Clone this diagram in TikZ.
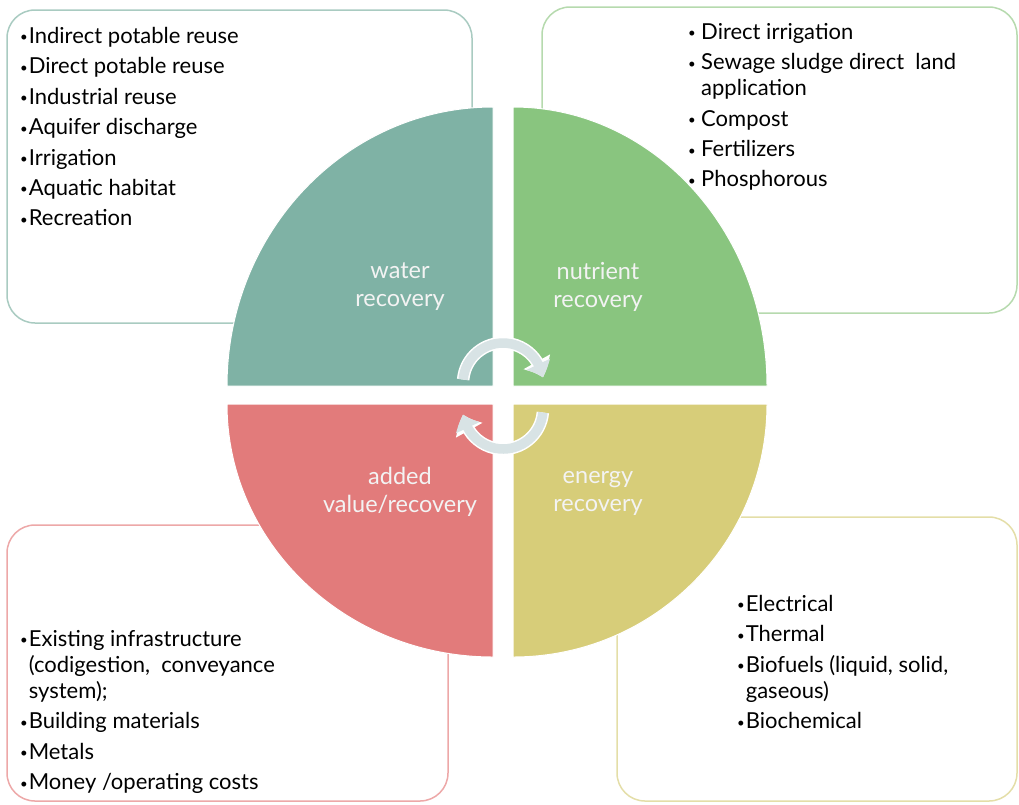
\documentclass[tikz,border=0pt]{standalone}
\usepackage{fontspec}
\usepackage{graphicx}
\setmainfont{Lato}
\usetikzlibrary{arrows.meta,bending}

\definecolor{waterfill}{HTML}{7FB2A5}
\definecolor{nutrientfill}{HTML}{89C57F}
\definecolor{addedfill}{HTML}{E27B7B}
\definecolor{energyfill}{HTML}{D7CD79}
\definecolor{wateredge}{HTML}{A9CBC1}
\definecolor{nutrientedge}{HTML}{B6DAAE}
\definecolor{addededge}{HTML}{EDA8A8}
\definecolor{energyedge}{HTML}{E4DEA8}
\definecolor{labeltext}{HTML}{F3F3F3}
\definecolor{cyclefill}{HTML}{D8E3E5}

\newcommand{\dotmark}{\raisebox{1.5pt}{\scalebox{0.6}{\textbullet}}\kern1pt}
\newcommand{\dotpad}{\makebox[13pt][l]{\raisebox{1.5pt}{\scalebox{0.6}{\textbullet}}}}

\tikzset{x=1pt, y=-1pt,
    listbox/.style={rectangle, rounded corners=28pt, fill=white,
        line width=1.5pt, inner sep=0pt},
    quarter/.style={draw=white, line width=1pt},
    sector/.style={text=labeltext, align=center, inner sep=0pt,
        font=\fontsize{23.5}{28}\selectfont},
    itemlist/.style={anchor=north west, align=left, inner sep=0pt,
        font=\fontsize{22}{26}\selectfont},
    rimpass/.style={draw=white, line width=12.5pt,
        -{Triangle[width=29pt,length=17pt,bend]}},
    cyclepass/.style={draw=cyclefill, line width=9.5pt,
        -{Triangle[width=25pt,length=14pt,bend]}}}

\begin{document}
\begin{tikzpicture}
\useasboundingbox (0,0) rectangle (1019,804);

% boxes behind the circle
\node[listbox, draw=wateredge, minimum width=465pt, minimum height=313pt]
    (waterbox) at (239.5,166.5) {};
\node[listbox, draw=nutrientedge, minimum width=475pt, minimum height=306pt]
    (nutrientbox) at (779.5,160) {};
\node[listbox, draw=addededge, minimum width=441pt, minimum height=276pt]
    (addedbox) at (227.5,663) {};
\node[listbox, draw=energyedge, minimum width=400pt, minimum height=284pt]
    (energybox) at (817,659) {};

% the four quarters
\fill[waterfill, quarter] (493,386) -- (227,386)
    arc[start angle=180, end angle=270, x radius=266, y radius=279] -- cycle;
\fill[nutrientfill, quarter] (513,386) -- (767,386)
    arc[start angle=0, end angle=-90, x radius=254, y radius=279] -- cycle;
\fill[addedfill, quarter] (493,404) -- (227,404)
    arc[start angle=180, end angle=90, x radius=266, y radius=253] -- cycle;
\fill[energyfill, quarter] (513,404) -- (767,404)
    arc[start angle=0, end angle=90, x radius=254, y radius=253] -- cycle;

\node[sector] (water)    at (400,287) {water\\recovery};
\node[sector] (nutrient) at (598,287) {nutrient\\recovery};
\node[sector] (added)    at (400,492) {added\\value/recovery};
\node[sector] (energy)   at (598,493) {energy\\recovery};

% cycle arrows
\coordinate (topc) at (503,383);
\coordinate (botc) at (503,409);
\draw[rimpass] ([shift={(185:40)}]topc) arc[start angle=185, end angle=352, radius=40];
\draw[cyclepass] ([shift={(185:40)}]topc) arc[start angle=185, end angle=352, radius=40];
\draw[rimpass] ([shift={(5:40)}]botc) arc[start angle=5, end angle=172, radius=40];
\draw[cyclepass] ([shift={(5:40)}]botc) arc[start angle=5, end angle=172, radius=40];

% lists
\node[itemlist] (waterlist) at (20,27) {%
    \dotmark Indirect potable reuse\\[4.4pt]
    \dotmark Direct potable reuse\\[4.4pt]
    \dotmark Industrial reuse\\[4.4pt]
    \dotmark Aquifer discharge\\[4.4pt]
    \dotmark Irrigation\\[4.4pt]
    \dotmark Aquatic habitat\\[4.4pt]
    \dotmark Recreation};
\node[itemlist] (nutrientlist) at (688,23) {%
    \dotpad Direct irrigation\\[4.4pt]
    \dotpad Sewage sludge direct~~land\\
    \hspace*{13pt}application\\[4.4pt]
    \dotpad Compost\\[4.4pt]
    \dotpad Fertilizers\\[4.4pt]
    \dotpad Phosphorous};
\node[itemlist] (addedlist) at (20,630) {%
    \dotmark Existing infrastructure\\
    \phantom{\dotmark}(codigestion,~~conveyance\\
    \phantom{\dotmark}system);\\[4.4pt]
    \dotmark Building materials\\[4.4pt]
    \dotmark Metals\\[4.4pt]
    \dotmark Money /operating costs};
\node[itemlist] (energylist) at (737,595) {%
    \dotmark Electrical\\[4.4pt]
    \dotmark Thermal\\[4.4pt]
    \dotmark Biofuels (liquid, solid,\\
    \phantom{\dotmark}gaseous)\\[4.4pt]
    \dotmark Biochemical};
\end{tikzpicture}
\end{document}
